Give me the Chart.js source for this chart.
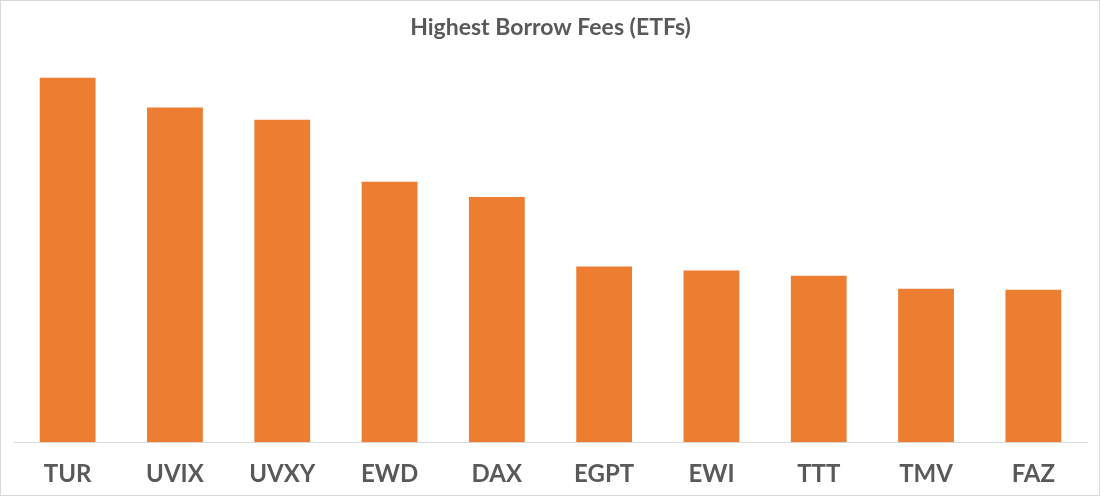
<!DOCTYPE html>
<html>
<head>
<meta charset="utf-8">
<script src="https://cdn.jsdelivr.net/npm/chart.js@4"></script>
<style>
  html, body { margin: 0; padding: 0; background: #fff; }
  #wrap { width: 1098px; height: 494px; border: 1px solid #d9d9d9; }
</style>
</head>
<body>
<div id="wrap"><canvas id="report_chart" width="1098" height="494"></canvas></div>
<script>
// tickers, left to right
var categories = ['TUR', 'UVIX', 'UVXY', 'EWD', 'DAX', 'EGPT', 'EWI', 'TTT', 'TMV', 'FAZ'];
// bar heights (no value axis shown, relative units)
var fees = [361, 331.5, 319.5, 258, 243, 174, 170, 165, 152, 151];
var title = 'Highest Borrow Fees (ETFs)';

var ctx = document.getElementById('report_chart').getContext('2d');
var chart_object = new Chart(ctx, {
    type: 'bar'
    ,data: {
        labels: categories
        ,datasets: [{
            data: fees
            ,backgroundColor: '#ED7D31'
            ,borderWidth: 0
            ,barPercentage: 0.52
            ,categoryPercentage: 1
        }]
    }
    ,options: {
        responsive: false
        ,animation: false
        ,layout: { padding: { left: 13, right: 12, top: 0, bottom: -4 } }
        ,plugins: {
            legend: { display: false }
            ,tooltip: { enabled: false }
            ,title: {
                display: true
                ,text: title
                ,color: '#595959'
                ,font: { family: 'Lato', size: 23, weight: 'bold' }
                ,padding: { top: 13, bottom: 16 }
            }
        }
        ,scales: {
            x: {
                grid: { display: false }
                ,border: { color: '#d9d9d9', width: 1 }
                ,ticks: {
                    color: '#595959'
                    ,font: { family: 'Lato', size: 24, weight: 'bold' }
                    ,padding: 10
                }
            }
            ,y: {
                display: false
                ,min: 0
                ,max: 381
            }
        }
    }
});
</script>
</body>
</html>
